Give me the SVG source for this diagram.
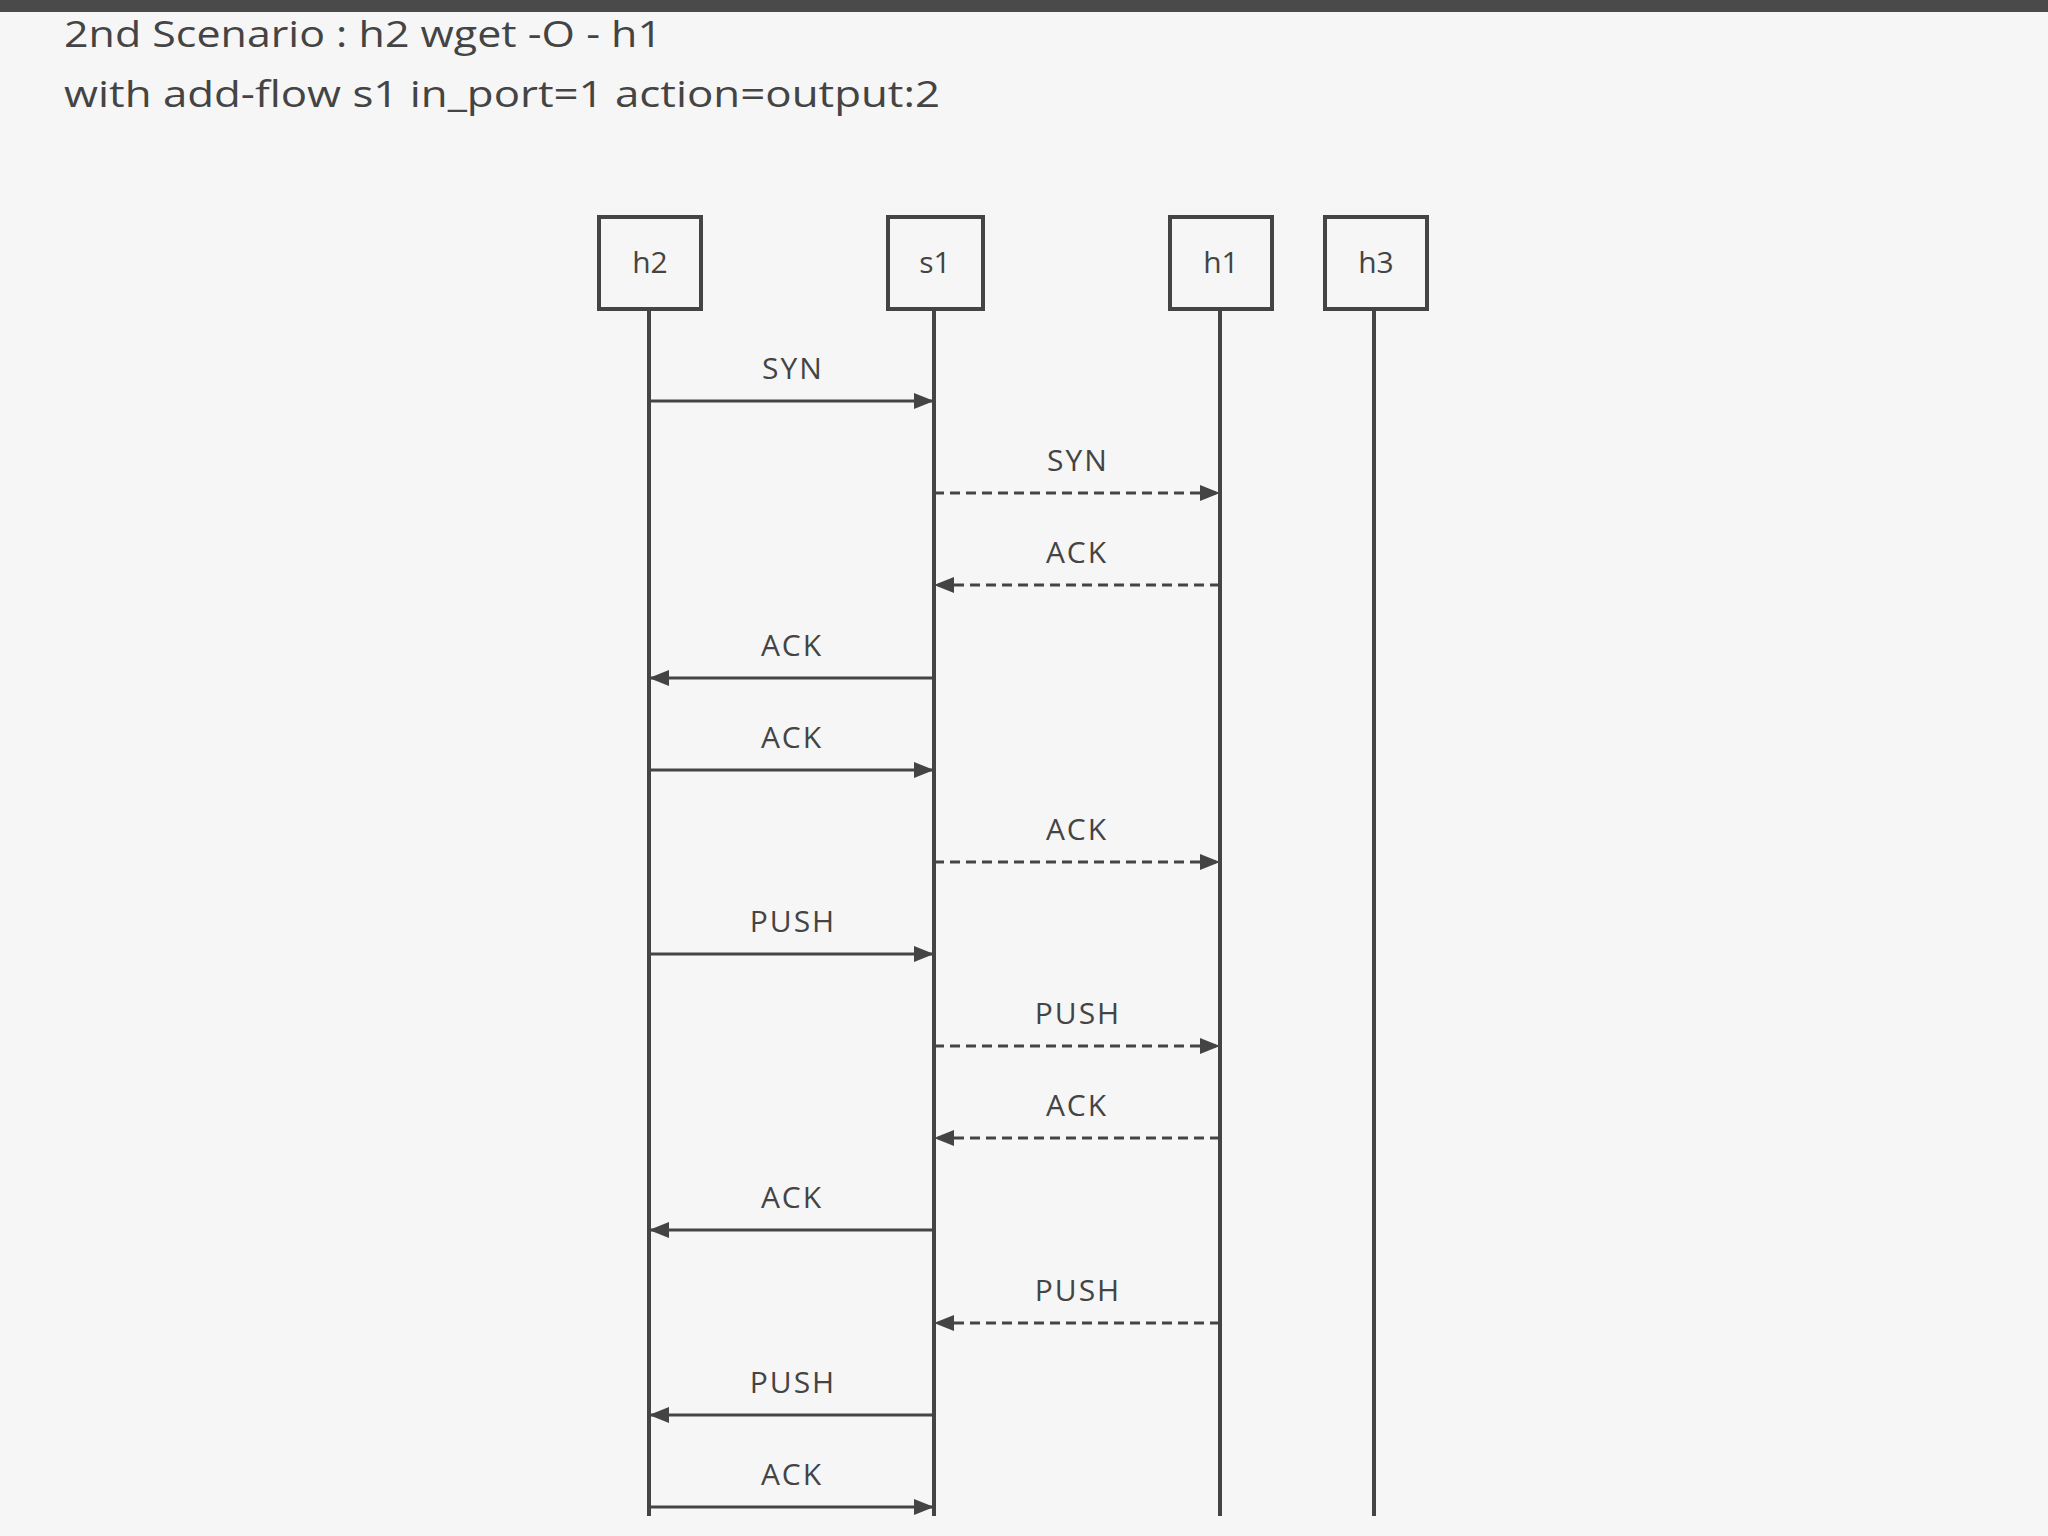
<svg xmlns="http://www.w3.org/2000/svg" width="2048" height="1536" viewBox="0 0 2048 1536">
<style>
.t{font-family:"Open Sans","Liberation Sans",sans-serif;fill:#444}
.box{fill:none;stroke:#444;stroke-width:4}
.life{stroke:#444;stroke-width:4}
.m{stroke:#444;stroke-width:3;fill:none}
.d{stroke-dasharray:10,6}
.lb{font-size:30px;text-anchor:middle;letter-spacing:2px}
</style>
<defs>
<marker id="ah" markerWidth="20" markerHeight="16" refX="20" refY="8" orient="auto" markerUnits="userSpaceOnUse"><path d="M0,0L20,8L0,16z" fill="#444"/></marker></defs>
<rect width="2048" height="1536" fill="#f6f6f6"/>
<rect width="2048" height="12" fill="#4a4a4a"/>
<text class="t" x="64" y="47" font-size="37" textLength="598" lengthAdjust="spacingAndGlyphs">2nd Scenario : h2 wget -O - h1</text>
<text class="t" x="64" y="107" font-size="37" textLength="876" lengthAdjust="spacingAndGlyphs">with add-flow s1 in_port=1 action=output:2</text>
<g id="lifelines">
<line class="life" x1="649" y1="310" x2="649" y2="1516"/>
<line class="life" x1="934" y1="310" x2="934" y2="1516"/>
<line class="life" x1="1220" y1="310" x2="1220" y2="1516"/>
<line class="life" x1="1374" y1="310" x2="1374" y2="1516"/>
</g>
<g id="h2"><rect class="box" x="599" y="217" width="102" height="92"/><text class="t" x="650" y="273" font-size="30" text-anchor="middle">h2</text></g>
<g id="s1"><rect class="box" x="888" y="217" width="95" height="92"/><text class="t" x="935" y="273" font-size="30" text-anchor="middle">s1</text></g>
<g id="h1"><rect class="box" x="1170" y="217" width="102" height="92"/><text class="t" x="1221" y="273" font-size="30" text-anchor="middle">h1</text></g>
<g id="h3"><rect class="box" x="1325" y="217" width="102" height="92"/><text class="t" x="1376" y="273" font-size="30" text-anchor="middle">h3</text></g>
<g id="connectors">
<line class="m" x1="649" y1="401" x2="934" y2="401" marker-end="url(#ah)"/><text class="t lb" x="793" y="379">SYN</text>
<line class="m d" x1="934" y1="493" x2="1220" y2="493" marker-end="url(#ah)"/><text class="t lb" x="1078" y="471">SYN</text>
<line class="m d" x1="1220" y1="585" x2="934" y2="585" marker-end="url(#ah)"/><text class="t lb" x="1077" y="563">ACK</text>
<line class="m" x1="934" y1="678" x2="649" y2="678" marker-end="url(#ah)"/><text class="t lb" x="792" y="656">ACK</text>
<line class="m" x1="649" y1="770" x2="934" y2="770" marker-end="url(#ah)"/><text class="t lb" x="792" y="748">ACK</text>
<line class="m d" x1="934" y1="862" x2="1220" y2="862" marker-end="url(#ah)"/><text class="t lb" x="1077" y="840">ACK</text>
<line class="m" x1="649" y1="954" x2="934" y2="954" marker-end="url(#ah)"/><text class="t lb" x="793" y="932">PUSH</text>
<line class="m d" x1="934" y1="1046" x2="1220" y2="1046" marker-end="url(#ah)"/><text class="t lb" x="1078" y="1024">PUSH</text>
<line class="m d" x1="1220" y1="1138" x2="934" y2="1138" marker-end="url(#ah)"/><text class="t lb" x="1077" y="1116">ACK</text>
<line class="m" x1="934" y1="1230" x2="649" y2="1230" marker-end="url(#ah)"/><text class="t lb" x="792" y="1208">ACK</text>
<line class="m d" x1="1220" y1="1323" x2="934" y2="1323" marker-end="url(#ah)"/><text class="t lb" x="1078" y="1301">PUSH</text>
<line class="m" x1="934" y1="1415" x2="649" y2="1415" marker-end="url(#ah)"/><text class="t lb" x="793" y="1393">PUSH</text>
<line class="m" x1="649" y1="1507" x2="934" y2="1507" marker-end="url(#ah)"/><text class="t lb" x="792" y="1485">ACK</text>
</g>
</svg>
